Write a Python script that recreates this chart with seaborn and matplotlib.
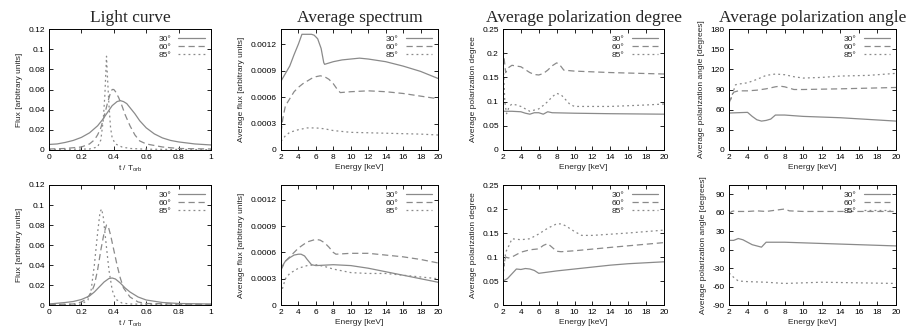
import numpy as np
import pandas as pd
import matplotlib
matplotlib.use("Agg")
import matplotlib.pyplot as plt
import seaborn as sns

labels = ["30°", "60°", "85°"]

# ---- Light curve (top) ----
lc_top_30_x = [0, 0.05, 0.1, 0.15, 0.2, 0.25, 0.3, 0.33, 0.36, 0.39, 0.42, 0.44, 0.46, 0.48, 0.5, 0.53, 0.56, 0.6, 0.65, 0.7, 0.75, 0.8, 0.85, 0.9, 0.95, 1.0]
lc_top_30_y = [0.0055, 0.006, 0.0075, 0.0095, 0.0125, 0.017, 0.024, 0.030, 0.037, 0.044, 0.048, 0.049, 0.048, 0.046, 0.042, 0.036, 0.029, 0.022, 0.016, 0.012, 0.0095, 0.008, 0.007, 0.006, 0.0055, 0.005]
lc_top_60_x = [0, 0.1, 0.2, 0.25, 0.28, 0.3, 0.32, 0.34, 0.36, 0.38, 0.39, 0.4, 0.41, 0.43, 0.45, 0.47, 0.5, 0.53, 0.56, 0.6, 0.7, 0.8, 1.0]
lc_top_60_y = [0.001, 0.0015, 0.003, 0.006, 0.01, 0.015, 0.022, 0.033, 0.046, 0.057, 0.060, 0.060, 0.058, 0.052, 0.044, 0.035, 0.024, 0.015, 0.009, 0.006, 0.003, 0.0015, 0.001]
lc_top_85_x = [0, 0.25, 0.3, 0.32, 0.335, 0.345, 0.355, 0.36, 0.37, 0.38, 0.39, 0.41, 0.45, 0.5, 0.6, 1.0]
lc_top_85_y = [0.0005, 0.001, 0.003, 0.01, 0.03, 0.055, 0.093, 0.075, 0.045, 0.022, 0.012, 0.006, 0.003, 0.0015, 0.0008, 0.0003]

# ---- Light curve (bottom) ----
lc_bot_30_x = [0, 0.1, 0.15, 0.2, 0.25, 0.28, 0.31, 0.34, 0.37, 0.39, 0.41, 0.44, 0.47, 0.5, 0.55, 0.6, 0.7, 0.8, 1.0]
lc_bot_30_y = [0.001, 0.0025, 0.0035, 0.0055, 0.009, 0.013, 0.018, 0.023, 0.0265, 0.027, 0.026, 0.022, 0.017, 0.013, 0.008, 0.005, 0.0025, 0.0015, 0.001]
lc_bot_60_x = [0, 0.15, 0.2, 0.23, 0.26, 0.28, 0.3, 0.32, 0.34, 0.355, 0.365, 0.38, 0.4, 0.42, 0.44, 0.46, 0.5, 0.55, 0.6, 1.0]
lc_bot_60_y = [0.0005, 0.001, 0.003, 0.006, 0.012, 0.02, 0.035, 0.055, 0.072, 0.080, 0.079, 0.07, 0.055, 0.04, 0.027, 0.017, 0.008, 0.003, 0.0015, 0.0005]
lc_bot_85_x = [0, 0.2, 0.24, 0.26, 0.28, 0.3, 0.315, 0.325, 0.335, 0.35, 0.37, 0.39, 0.41, 0.45, 0.5, 1.0]
lc_bot_85_y = [0.0002, 0.0008, 0.005, 0.015, 0.04, 0.072, 0.093, 0.096, 0.088, 0.065, 0.035, 0.015, 0.006, 0.002, 0.001, 0.0]

# ---- Average spectrum (top) ----
sp_top_30_x = [2, 3, 3.5, 4, 4.4, 5, 5.5, 5.8, 6.2, 6.6, 6.9, 7, 8, 9, 10, 11, 12, 14, 16, 18, 20]
sp_top_30_y = [0.00078, 0.00095, 0.00108, 0.0012, 0.00131, 0.00131, 0.00131, 0.0013, 0.00126, 0.00115, 0.00099, 0.00097, 0.001, 0.00102, 0.00103, 0.00104, 0.00103, 0.001, 0.00095, 0.00089, 0.00081]
sp_top_60_x = [2, 2.2, 2.5, 3, 3.5, 4, 4.5, 5, 5.5, 6, 6.5, 7, 7.5, 8, 8.5, 8.8, 10, 12, 14, 16, 18, 20]
sp_top_60_y = [0.0002, 0.00035, 0.0005, 0.00058, 0.00066, 0.00071, 0.00075, 0.00078, 0.00081, 0.00083, 0.00084, 0.00083, 0.0008, 0.00075, 0.00068, 0.00065, 0.00066, 0.00067, 0.00066, 0.00064, 0.00061, 0.00058]
sp_top_85_x = [2, 2.5, 3, 4, 5, 6, 7, 8, 9, 10, 14, 18, 20]
sp_top_85_y = [0.0001, 0.00016, 0.0002, 0.00023, 0.00025, 0.00025, 0.00024, 0.00022, 0.00021, 0.0002, 0.00019, 0.00018, 0.00017]

# ---- Average spectrum (bottom) ----
sp_bot_30_x = [2, 2.5, 3, 3.5, 4, 4.3, 4.7, 5, 5.5, 6, 8, 10, 12, 14, 16, 18, 20]
sp_bot_30_y = [0.00042, 0.0005, 0.00054, 0.00057, 0.00058, 0.00058, 0.00056, 0.00052, 0.00046, 0.00045, 0.00046, 0.00045, 0.00042, 0.00038, 0.00034, 0.0003, 0.00026]
sp_bot_60_x = [2, 2.5, 3, 4, 5, 6, 6.5, 7, 7.5, 8, 8.3, 10, 12, 14, 16, 18, 20]
sp_bot_60_y = [0.0004, 0.0005, 0.00055, 0.00065, 0.00072, 0.00075, 0.00074, 0.00071, 0.00066, 0.0006, 0.00058, 0.00059, 0.00059, 0.00057, 0.00055, 0.00052, 0.00048]
sp_bot_85_x = [2, 2.5, 3, 4, 5, 6, 7, 8, 10, 12, 14, 16, 18, 20]
sp_bot_85_y = [0.00013, 0.0003, 0.00036, 0.00042, 0.00045, 0.00046, 0.00044, 0.00041, 0.00037, 0.00036, 0.00036, 0.00034, 0.00032, 0.0003]

# ---- Polarization degree (top) ----
pd_top_30_x = [2, 3, 4, 4.5, 5, 5.5, 6, 6.5, 7, 7.5, 10, 14, 20]
pd_top_30_y = [0.08, 0.08, 0.079, 0.076, 0.074, 0.077, 0.077, 0.074, 0.079, 0.077, 0.076, 0.075, 0.074]
pd_top_60_x = [2, 2.3, 2.6, 3, 4, 5, 5.5, 6, 6.5, 7, 7.5, 8, 8.3, 8.8, 10, 14, 20]
pd_top_60_y = [0.21, 0.16, 0.17, 0.175, 0.172, 0.16, 0.156, 0.155, 0.158, 0.165, 0.174, 0.18, 0.177, 0.165, 0.163, 0.16, 0.157]
pd_top_85_x = [2, 2.2, 2.4, 2.7, 3, 3.5, 4, 5, 6, 6.5, 7, 7.5, 8, 8.5, 9, 9.5, 10, 14, 18, 20]
pd_top_85_y = [0.19, 0.1, 0.075, 0.09, 0.095, 0.093, 0.09, 0.08, 0.085, 0.092, 0.1, 0.11, 0.117, 0.114, 0.104, 0.094, 0.09, 0.09, 0.093, 0.095]

# ---- Polarization degree (bottom) ----
pd_bot_30_x = [2, 2.5, 3, 3.5, 4, 4.5, 5, 5.5, 6, 8, 10, 12, 14, 16, 18, 20]
pd_bot_30_y = [0.05, 0.055, 0.065, 0.075, 0.074, 0.076, 0.075, 0.072, 0.066, 0.071, 0.075, 0.079, 0.083, 0.086, 0.088, 0.09]
pd_bot_60_x = [2, 2.3, 2.6, 3, 4, 5, 6, 6.5, 7, 7.5, 8, 8.5, 10, 14, 20]
pd_bot_60_y = [0.075, 0.1, 0.098, 0.1, 0.11, 0.115, 0.117, 0.124, 0.128, 0.12, 0.112, 0.111, 0.113, 0.12, 0.13]
pd_bot_85_x = [2, 2.3, 2.7, 3, 4, 5, 6, 7, 8, 8.5, 9, 9.5, 10, 10.8, 12, 16, 20]
pd_bot_85_y = [0.06, 0.11, 0.125, 0.138, 0.136, 0.138, 0.148, 0.16, 0.169, 0.169, 0.165, 0.159, 0.153, 0.145, 0.145, 0.15, 0.156]

# ---- Polarization angle (top) ----
pa_top_30_x = [2, 4, 4.5, 5, 5.5, 6, 6.5, 7, 8, 10, 14, 20]
pa_top_30_y = [55, 56, 50, 45, 43, 44, 46, 52, 52, 50, 48, 43]
pa_top_60_x = [2, 2.5, 3, 4, 5, 6, 7, 7.5, 8, 9, 10, 14, 20]
pa_top_60_y = [70, 86, 88, 88, 89, 91, 94, 95, 94, 90, 90, 91, 93]
pa_top_85_x = [2, 2.3, 2.7, 3, 4, 5, 6, 7, 8, 9, 10, 12, 14, 17, 20]
pa_top_85_y = [68, 80, 97, 98, 100, 105, 111, 113, 112, 109, 107, 108, 110, 111, 114]

# ---- Polarization angle (bottom) ----
pa_bot_30_x = [2, 2.5, 3, 3.5, 4, 4.5, 5, 5.5, 6, 8, 10, 14, 20]
pa_bot_30_y = [15, 15, 18, 16, 12, 8, 6, 4, 12, 12, 11, 9, 6]
pa_bot_60_x = [2, 2.3, 2.6, 3, 4, 5, 6, 7, 8, 8.5, 10, 14, 20]
pa_bot_60_y = [58, 62, 63, 62, 62, 63, 62, 64, 66, 63, 62, 62, 62]
pa_bot_85_x = [2, 2.5, 3, 4, 6, 8, 10, 12, 16, 20]
pa_bot_85_y = [-38, -45, -51, -52, -53, -55, -54, -53, -54, -55]

titles = ["Light curve", "Average spectrum", "Average polarization degree", "Average polarization angle"]
xlabels = ["t / T$_{\\mathregular{orb}}$", "Energy [keV]", "Energy [keV]", "Energy [keV]"]
ylabels = ["Flux [arbitrary units]", "Average flux [arbitrary units]",
           "Average polarization degree", "Average polarization angle [degrees]"]

sns.set_style("ticks")
plt.rcParams["font.family"] = ["Liberation Sans", "DejaVu Sans"]

fig = plt.figure(figsize=(9.14, 3.29), dpi=100)
W, H = 914, 329
lefts = [49, 281, 503, 729]
rights = [211, 438, 664, 896]
rows = [(29, 150), (185, 305)]

panels = [
    [(lc_top_30_x, lc_top_30_y), (lc_top_60_x, lc_top_60_y), (lc_top_85_x, lc_top_85_y)],
    [(sp_top_30_x, sp_top_30_y), (sp_top_60_x, sp_top_60_y), (sp_top_85_x, sp_top_85_y)],
    [(pd_top_30_x, pd_top_30_y), (pd_top_60_x, pd_top_60_y), (pd_top_85_x, pd_top_85_y)],
    [(pa_top_30_x, pa_top_30_y), (pa_top_60_x, pa_top_60_y), (pa_top_85_x, pa_top_85_y)],
    [(lc_bot_30_x, lc_bot_30_y), (lc_bot_60_x, lc_bot_60_y), (lc_bot_85_x, lc_bot_85_y)],
    [(sp_bot_30_x, sp_bot_30_y), (sp_bot_60_x, sp_bot_60_y), (sp_bot_85_x, sp_bot_85_y)],
    [(pd_bot_30_x, pd_bot_30_y), (pd_bot_60_x, pd_bot_60_y), (pd_bot_85_x, pd_bot_85_y)],
    [(pa_bot_30_x, pa_bot_30_y), (pa_bot_60_x, pa_bot_60_y), (pa_bot_85_x, pa_bot_85_y)],
]

styles = [("-", "#8a8a8a"), ((0, (5, 3)), "#8a8a8a"), ((0, (1.5, 2.5)), "#8a8a8a")]

ylims = [(0, 0.12), (0, 0.00137), (0, 0.25), (0, 180),
         (0, 0.12), (0, 0.00137), (0, 0.25), (-90, 105)]
yticks = [np.arange(0, 0.121, 0.02), np.arange(0, 0.00121, 0.0003), np.arange(0, 0.251, 0.05), np.arange(0, 181, 30),
          np.arange(0, 0.121, 0.02), np.arange(0, 0.00121, 0.0003), np.arange(0, 0.251, 0.05), np.arange(-90, 91, 30)]

def fmt_tick(v, i):
    if i % 4 == 1:
        if v == 0:
            return "0"
        return ("%.4f" % v).rstrip("0")
    if i % 4 == 3:
        return "%d" % round(v)
    s = ("%.2f" % v).rstrip("0").rstrip(".")
    return s

for idx in range(8):
    r, c = divmod(idx, 4)
    top, bot = rows[r]
    ax = fig.add_axes([lefts[c] / W, 1 - bot / H, (rights[c] - lefts[c]) / W, (bot - top) / H])
    for (xs, ys), lab, (ls, col) in zip(panels[idx], labels, styles):
        df = pd.DataFrame({"x": xs, "y": ys})
        sns.lineplot(data=df, x="x", y="y", ax=ax, color=col, linestyle=ls, linewidth=0.9, label=lab)
    if c == 0:
        ax.set_xlim(0, 1)
        ax.set_xticks(np.arange(0, 1.01, 0.2))
        ax.set_xticklabels(["0", "0.2", "0.4", "0.6", "0.8", "1"])
    else:
        ax.set_xlim(2, 20)
        ax.set_xticks(np.arange(2, 21, 2))
    ax.set_ylim(*ylims[idx])
    ax.set_yticks(yticks[idx])
    ax.set_yticklabels([fmt_tick(v, c) for v in yticks[idx]])
    ax.tick_params(direction="in", top=True, right=True, length=3, width=0.6, labelsize=6, pad=3, colors="black")
    for sp in ax.spines.values():
        sp.set_linewidth(0.7)
        sp.set_color("black")
    ax.set_xlabel(xlabels[c], fontsize=6, labelpad=2)
    ax.set_ylabel(ylabels[c], fontsize=6, labelpad=4)
    leg = ax.legend(loc="upper right", frameon=False, fontsize=6, markerfirst=False,
                    handlelength=3.2, handletextpad=0.8, labelspacing=0.05, borderaxespad=0.3)
    if r == 0:
        ax.set_title(titles[c], fontsize=12.5, family=["Liberation Serif", "DejaVu Serif"], pad=5)

fig.savefig("out.png", dpi=100)
